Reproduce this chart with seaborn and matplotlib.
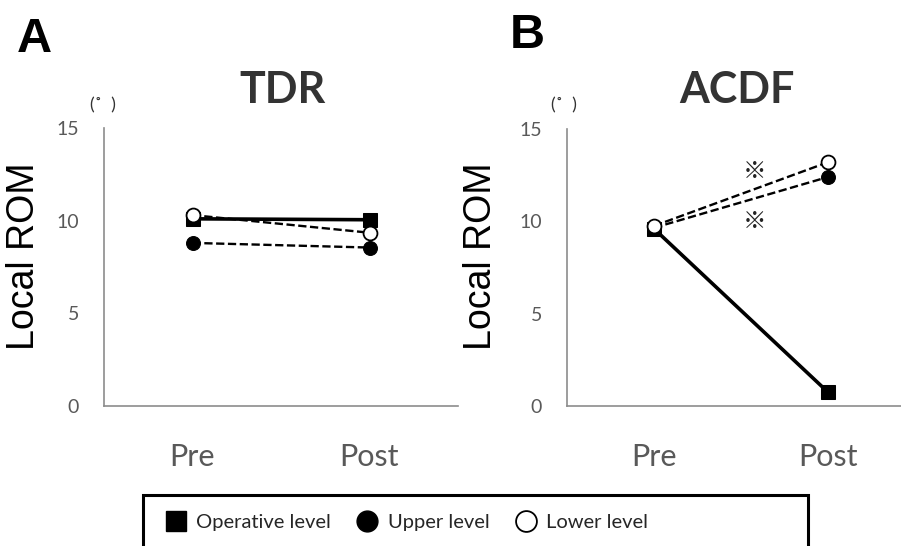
import matplotlib
matplotlib.use("Agg")
import matplotlib.pyplot as plt
import matplotlib.patches as mpatches
from matplotlib.lines import Line2D
import pandas as pd
import seaborn as sns

## Data
timepoints = ["Pre", "Post"]
tdr_operative = [10.1, 10.05]
tdr_upper = [8.8, 8.55]
tdr_lower = [10.3, 9.35]
acdf_operative = [9.6, 0.75]
acdf_upper = [9.65, 12.4]
acdf_lower = [9.75, 13.2]
panel_titles = ["TDR", "ACDF"]
panel_letters = ["A", "B"]
y_ticks = [0, 5, 10, 15]
legend_labels = ["Operative level", "Upper level", "Lower level"]

sns.set_theme(style="white")
plt.rcParams["font.family"] = ["Lato", "DejaVu Sans"]

fig = plt.figure(figsize=(9.01, 5.46), dpi=100)
W, H = 901, 546


def px_axes(left, right, top, bottom):
    return fig.add_axes([left / W, 1 - bottom / H, (right - left) / W, (bottom - top) / H])


ax_a = px_axes(104, 458, 128, 406)
ax_b = px_axes(567, 901, 129, 406)

series_style = {
    "operative": dict(marker="s", linestyle="-", linewidth=2.6, markersize=10.5,
                      markerfacecolor="black", markeredgecolor="black", zorder=3),
    "upper": dict(marker="o", linestyle=(0, (3.5, 1.5)), linewidth=1.7, markersize=10,
                  markerfacecolor="black", markeredgecolor="black", zorder=4),
    "lower": dict(marker="o", linestyle=(0, (3.5, 1.5)), linewidth=1.7, markersize=10,
                  markerfacecolor="white", markeredgecolor="black", markeredgewidth=1.3, zorder=5),
}


def draw_panel(ax, operative, upper, lower, xmax, label_x):
    for key, vals in (("operative", operative), ("upper", upper), ("lower", lower)):
        df = pd.DataFrame({"time": timepoints, "rom": vals})
        sns.lineplot(data=df, x="time", y="rom", ax=ax, color="black", sort=False,
                     **series_style[key])
    ax.set_xlim(-0.5, xmax)
    ax.set_ylim(0, 15)
    ax.set_yticks(y_ticks)
    ax.set_yticklabels([str(t) for t in y_ticks], fontsize=14, color="#595959")
    ax.tick_params(axis="y", length=0, pad=18)
    ax.tick_params(axis="x", length=0, pad=27, labelsize=22, labelcolor="#595959")
    ax.set_xlabel("")
    ax.set_ylabel("Local ROM", fontsize=27, color="black", family="Liberation Sans")
    ax.yaxis.set_label_coords(label_x / W, 1 - 256 / H, transform=fig.transFigure)
    for side in ("top", "right"):
        ax.spines[side].set_visible(False)
    for side in ("left", "bottom"):
        ax.spines[side].set_color("#8c8c8c")
        ax.spines[side].set_linewidth(1.2)
    ax.set_facecolor("white")


draw_panel(ax_a, tdr_operative, tdr_upper, tdr_lower, 1.5, 42)
draw_panel(ax_b, acdf_operative, acdf_upper, acdf_lower, 1.42, 499)

# titles, panel letters and degree units
fig.text(283 / W, 1 - 90 / H, panel_titles[0], fontsize=31, fontweight="bold", color="#333333",
         ha="center", va="center")
fig.text(737 / W, 1 - 90 / H, panel_titles[1], fontsize=31, fontweight="bold", color="#333333",
         ha="center", va="center")
fig.text(17 / W, 1 - 52 / H, panel_letters[0], fontsize=35, fontweight="bold", color="black",
         family="Liberation Sans", ha="left", va="baseline")
fig.text(510 / W, 1 - 48 / H, panel_letters[1], fontsize=35, fontweight="bold", color="black",
         family="Liberation Sans", ha="left", va="baseline")
fig.text(103 / W, 1 - 105 / H, "(˚  )", fontsize=13, color="#333333", ha="center", va="center")
fig.text(564 / W, 1 - 105 / H, "(˚  )", fontsize=13, color="#333333", ha="center", va="center")

# significance marks
for yv in (12.7, 10.0):
    ax_b.text(0.58, yv, "※", fontsize=17, color="#222222", ha="center", va="center",
              family=["Noto Sans CJK JP", "DejaVu Sans"])

# legend box
fig.patches.append(mpatches.Rectangle((143 / W, -0.05), (808 - 143) / W, (1 - 495 / H) + 0.05,
                                      transform=fig.transFigure, fill=False,
                                      edgecolor="black", linewidth=2.2))
handles = [
    Line2D([], [], marker="s", linestyle="none", markersize=15, markerfacecolor="black",
           markeredgecolor="black"),
    Line2D([], [], marker="o", linestyle="none", markersize=15, markerfacecolor="black",
           markeredgecolor="black"),
    Line2D([], [], marker="o", linestyle="none", markersize=15, markerfacecolor="white",
           markeredgecolor="black", markeredgewidth=1.3),
]
fig.legend(handles, legend_labels, loc="center left", bbox_to_anchor=(148 / W, 1 - 522 / H),
           ncol=3, frameon=False, fontsize=14.5, handlelength=1.0, handletextpad=0.5,
           columnspacing=1.3)

fig.savefig("out.png", dpi=100, facecolor="white")
